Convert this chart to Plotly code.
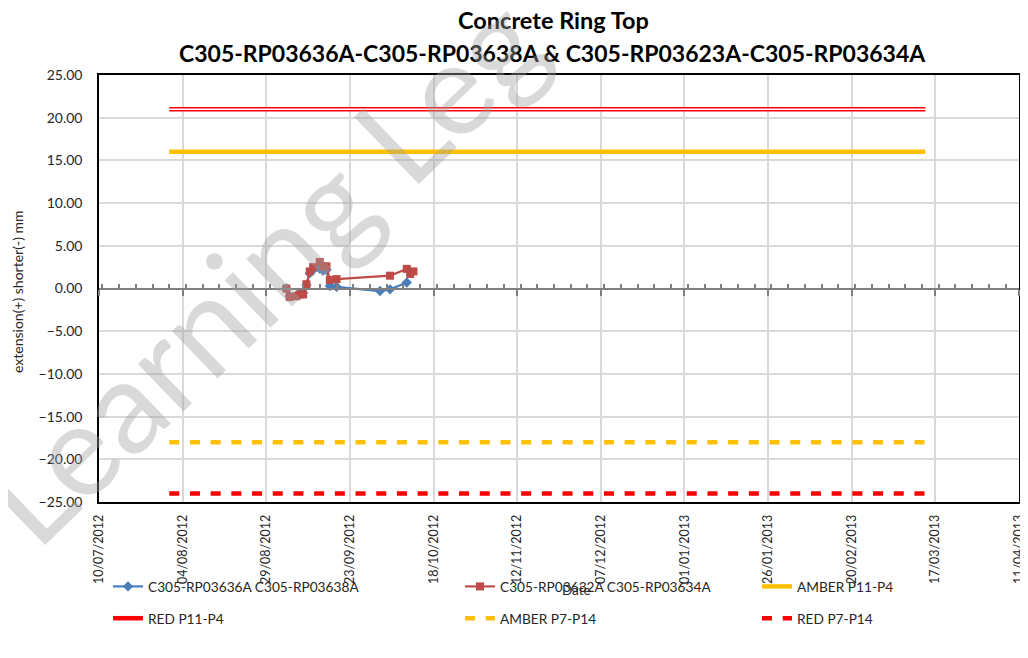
import plotly.graph_objects as go

# data series
blue_name = "C305-RP03636A C305-RP03638A"
blue_dates = ["2012-09-04", "2012-09-05", "2012-09-07", "2012-09-08", "2012-09-09",
              "2012-09-10", "2012-09-11", "2012-09-12", "2012-09-14", "2012-09-15",
              "2012-09-16", "2012-09-17", "2012-09-19", "2012-10-02", "2012-10-05",
              "2012-10-10"]
blue_vals = [0.0, -0.9, -0.8, -0.6, -0.5, 0.4, 1.8, 2.2, 2.3, 2.1,
             2.2, 0.3, 0.2, -0.3, -0.1, 0.7]

red_name = "C305-RP03632A C305-RP03634A"
red_dates = ["2012-09-04", "2012-09-05", "2012-09-07", "2012-09-08", "2012-09-09",
             "2012-09-10", "2012-09-11", "2012-09-12", "2012-09-14", "2012-09-15",
             "2012-09-16", "2012-09-17", "2012-09-19", "2012-10-05", "2012-10-10",
             "2012-10-11", "2012-10-12"]
red_vals = [0.0, -1.0, -0.9, -0.7, -0.7, 0.5, 2.0, 2.5, 3.1, 2.6,
            2.6, 1.0, 1.1, 1.5, 2.3, 1.7, 2.0]

# trigger levels
limit_dates = ["2012-07-31", "2013-03-14"]
amber_p11 = [16, 16]
red_p11 = [21, 21]
amber_p7 = [-18, -18]
red_p7 = [-24, -24]

x_range = ["2012-07-10", "2013-04-11"]
y_ticks = [-25, -20, -15, -10, -5, 0, 5, 10, 15, 20, 25]

FONT = "Lato"
DAY = 86400000

# the page body adds an 8px margin, so the figure is 8px smaller
PAGE_OFF = 8
W, H = 1028 - PAGE_OFF, 658 - PAGE_OFF

# plot area in screen pixels
L, R, T, B = 99, 1019, 75, 502


def px(x):
    return (x - L) / (R - L)


def py(y):
    return (B - y) / (B - T)


fig = go.Figure()

fig.add_trace(go.Scatter(
    x=blue_dates, y=blue_vals, name=blue_name, mode="lines+markers",
    line=dict(color="#4A7EBB", width=2.2),
    marker=dict(symbol="diamond", size=8, color="#4A7EBB"),
    legend="legend", legendgroup="a"
))
fig.add_trace(go.Scatter(
    x=red_dates, y=red_vals, name=red_name, mode="lines+markers",
    line=dict(color="#BE4B48", width=2.2),
    marker=dict(symbol="square", size=8, color="#BE4B48"),
    legend="legend2", legendgroup="b"
))
fig.add_trace(go.Scatter(
    x=limit_dates, y=amber_p11, name="AMBER P11-P4", mode="lines",
    line=dict(color="#FFC000", width=4.5),
    legend="legend3", legendgroup="c"
))
fig.add_trace(go.Scatter(
    x=limit_dates, y=red_p11, name="RED P11-P4", mode="lines",
    line=dict(color="#FF0000", width=4.5),
    legend="legend", legendgroup="d"
))
fig.add_trace(go.Scatter(
    x=limit_dates, y=red_p11, mode="lines", showlegend=False, hoverinfo="skip",
    line=dict(color="white", width=1.5)
))
fig.add_trace(go.Scatter(
    x=limit_dates, y=amber_p7, name="AMBER P7-P14", mode="lines",
    line=dict(color="#FFC000", width=4.5, dash="10px,10.7px"),
    legend="legend2", legendgroup="e"
))
fig.add_trace(go.Scatter(
    x=limit_dates, y=red_p7, name="RED P7-P14", mode="lines",
    line=dict(color="#FF0000", width=4.5, dash="10px,10.7px"),
    legend="legend3", legendgroup="f"
))
# empty trace so the zero-crossing axis gets drawn
fig.add_trace(go.Scatter(x=[], y=[], xaxis="x2", showlegend=False))

legend_common = dict(
    orientation="v", yanchor="top", y=py(571), xanchor="left",
    font=dict(family=FONT, size=13.7, color="#262626"),
    traceorder="grouped", tracegroupgap=11, bgcolor="rgba(0,0,0,0)"
)

fig.update_layout(
    width=W, height=H,
    paper_bgcolor="white", plot_bgcolor="white",
    margin=dict(l=L - PAGE_OFF, r=1028 - R, t=T - PAGE_OFF, b=658 - B, autoexpand=False),
    font=dict(family=FONT, color="#262626"),
    showlegend=True,
    legend=dict(x=px(108), **legend_common),
    legend2=dict(x=px(460), **legend_common),
    legend3=dict(x=px(757), **legend_common),
    xaxis=dict(
        type="date", range=x_range, tick0="2012-07-10", dtick=25 * DAY,
        tickformat="%d/%m/%Y", tickangle=-90,
        tickfont=dict(family=FONT, size=12.5, color="#262626"),
        showgrid=True, gridcolor="#D9D9D9", gridwidth=1.5,
        showline=True, linecolor="black", linewidth=1.5, mirror=True,
        ticks="", ticklabelstandoff=6, zeroline=False, automargin=False
    ),
    xaxis2=dict(
        type="date", range=x_range, overlaying="x", anchor="free", position=0.5,
        tick0="2012-07-10", dtick=25 * DAY, ticks="outside", ticklen=6,
        tickcolor="#808080", tickwidth=1.5,
        minor=dict(dtick=5 * DAY, ticks="inside", ticklen=4, tickcolor="#808080",
                   tickwidth=1.5, showgrid=False),
        showticklabels=False, showgrid=False, automargin=False,
        showline=True, linecolor="#808080", linewidth=2
    ),
    yaxis=dict(
        range=[-25, 25], tickvals=y_ticks, tickformat=".2f",
        tickfont=dict(family=FONT, size=14, color="#262626"),
        showgrid=True, gridcolor="#D9D9D9", gridwidth=1.5,
        showline=True, linecolor="black", linewidth=1.5, mirror=True,
        ticks="", ticklabelstandoff=12, zeroline=False, automargin=False
    ),
    annotations=[
        dict(text="<b>Concrete Ring Top</b>", xref="paper", yref="paper",
             x=px(553), y=py(20), xanchor="center", yanchor="middle", showarrow=False,
             font=dict(family=FONT, size=23.5, color="black")),
        dict(text="<b>C305-RP03636A-C305-RP03638A & C305-RP03623A-C305-RP03634A</b>",
             xref="paper", yref="paper", x=px(552), y=py(53),
             xanchor="center", yanchor="middle", showarrow=False,
             font=dict(family=FONT, size=23, color="black")),
        dict(text="extension(+) shorter(-) mm", xref="paper", yref="paper",
             x=px(17), y=py(292), xanchor="center", yanchor="middle",
             showarrow=False, textangle=-90,
             font=dict(family=FONT, size=14, color="#262626")),
        dict(text="Date", xref="paper", yref="paper", x=px(576), y=py(590),
             xanchor="center", yanchor="middle",
             showarrow=False, font=dict(family=FONT, size=13.5, color="#262626")),
        dict(text="Learning Leg", xref="paper", yref="paper",
             x=px(260), y=py(268), xanchor="center", yanchor="middle",
             showarrow=False, textangle=-44,
             font=dict(family=FONT, size=130, color="rgba(160,160,160,0.4)")),
    ]
)

fig.write_html("out.html")
